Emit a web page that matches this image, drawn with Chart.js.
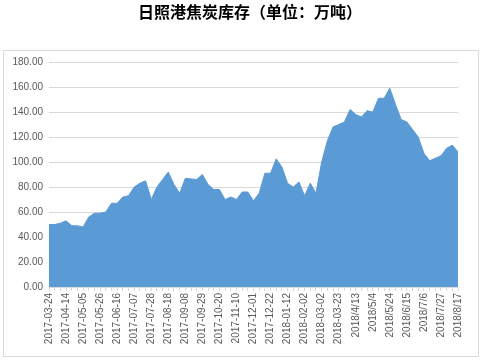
<!DOCTYPE html>
<html>
<head>
<meta charset="utf-8">
<script src="https://cdn.jsdelivr.net/npm/chart.js@4.4.1/dist/chart.umd.min.js"></script>
<style>
  html, body { margin: 0; padding: 0; background: #fff; }
  #wrap { position: relative; width: 497px; height: 363px; }
  #titulo {
    position: absolute; left: 0; top: 2px; width: 500px; text-align: center;
    font: bold 16px "Noto Sans CJK SC", sans-serif; color: #000; line-height: 19px;
  }
</style>
</head>
<body>
<div id="wrap">
  <div id="titulo"></div>
  <canvas id="grafico" width="497" height="363"></canvas>
</div>
<script>
const titulo = '日照港焦炭库存（单位：万吨）';

const datas = [
    '2017-03-24', '2017-03-31', '2017-04-07', '2017-04-14', '2017-04-21', '2017-04-28',
    '2017-05-05', '2017-05-12', '2017-05-19', '2017-05-26', '2017-06-02', '2017-06-09',
    '2017-06-16', '2017-06-23', '2017-06-30', '2017-07-07', '2017-07-14', '2017-07-21',
    '2017-07-28', '2017-08-04', '2017-08-11', '2017-08-18', '2017-08-25', '2017-09-01',
    '2017-09-08', '2017-09-15', '2017-09-22', '2017-09-29', '2017-10-06', '2017-10-13',
    '2017-10-20', '2017-10-27', '2017-11-03', '2017-11-10', '2017-11-17', '2017-11-24',
    '2017-12-01', '2017-12-08', '2017-12-15', '2017-12-22', '2017-12-29', '2018-01-05',
    '2018-01-12', '2018-01-19', '2018-01-26', '2018-02-02', '2018-02-09', '2018-02-23',
    '2018-03-02', '2018-03-09', '2018-03-16', '2018-03-23', '2018/3/30', '2018/4/6',
    '2018/4/13', '2018/4/20', '2018/4/27', '2018/5/4', '2018/5/11', '2018/5/18',
    '2018/5/24', '2018/6/1', '2018/6/8', '2018/6/15', '2018/6/22', '2018/6/29',
    '2018/7/6', '2018/7/13', '2018/7/20', '2018/7/27', '2018/8/3', '2018/8/10',
    '2018/8/17'
];

const estoque = [
    50, 50, 51, 53, 49, 49, 48, 56, 59, 59, 60, 67,
    67, 72, 73, 80, 83, 85, 70, 80, 86, 92, 82, 75,
    87, 86.5, 86, 90, 82, 78, 78, 70, 72, 70, 76, 76,
    69, 75, 91, 91, 102.5, 96, 83, 80, 84, 73, 83, 75,
    100, 117, 128, 130, 132, 142, 138, 136, 141, 140, 151, 151,
    159, 146, 134, 132, 126, 120, 107, 101, 103, 105, 111, 113.5,
    108
];

const yMin = 0;
const yMax = 180;
const yPasso = 20;

const corArea = '#5b9bd5';
const corGrade = '#d9d9d9';
const corTexto = '#595959';

document.getElementById('titulo').textContent = titulo;

const moldura = {
    id: 'moldura',
    beforeDraw(chart) {
        const ctx = chart.ctx;
        ctx.save();
        ctx.strokeStyle = corGrade;
        ctx.lineWidth = 1;
        ctx.strokeRect(3.5, 50.5, 475, 306);
        ctx.restore();
    }
};

new Chart(document.getElementById('grafico'), {
    type: 'line',
    data: {
        labels: datas,
        datasets: [{
            data: estoque,
            fill: 'origin',
            backgroundColor: corArea,
            borderColor: corArea,
            borderWidth: 1,
            pointRadius: 0,
            tension: 0,
        }],
    },
    options: {
        responsive: false,
        animation: false,
        layout: { padding: { left: 0, right: 39, top: 62, bottom: 7 } },
        plugins: {
            legend: { display: false },
            tooltip: { enabled: false },
            title: { display: false },
        },
        scales: {
            x: {
                offset: false,
                grid: { drawOnChartArea: false, drawTicks: true, tickLength: 4, color: corGrade },
                border: { color: corGrade },
                ticks: {
                    autoSkip: false,
                    minRotation: 90,
                    maxRotation: 90,
                    padding: 2,
                    color: corTexto,
                    font: { family: '"Liberation Sans", sans-serif', size: 10 },
                    callback: function (v, i) { return i % 3 === 0 ? datas[i] : ''; },
                },
                afterFit(scale) { scale.height = 69; },
            },
            y: {
                min: yMin,
                max: yMax,
                grid: { color: corGrade, drawTicks: false },
                border: { display: false },
                ticks: {
                    stepSize: yPasso,
                    padding: 6,
                    color: corTexto,
                    font: { family: '"Liberation Sans", sans-serif', size: 10 },
                    callback: v => v.toFixed(2),
                },
                afterFit(scale) { scale.width = 49; },
            },
        },
    },
    plugins: [moldura],
});
</script>
</body>
</html>
